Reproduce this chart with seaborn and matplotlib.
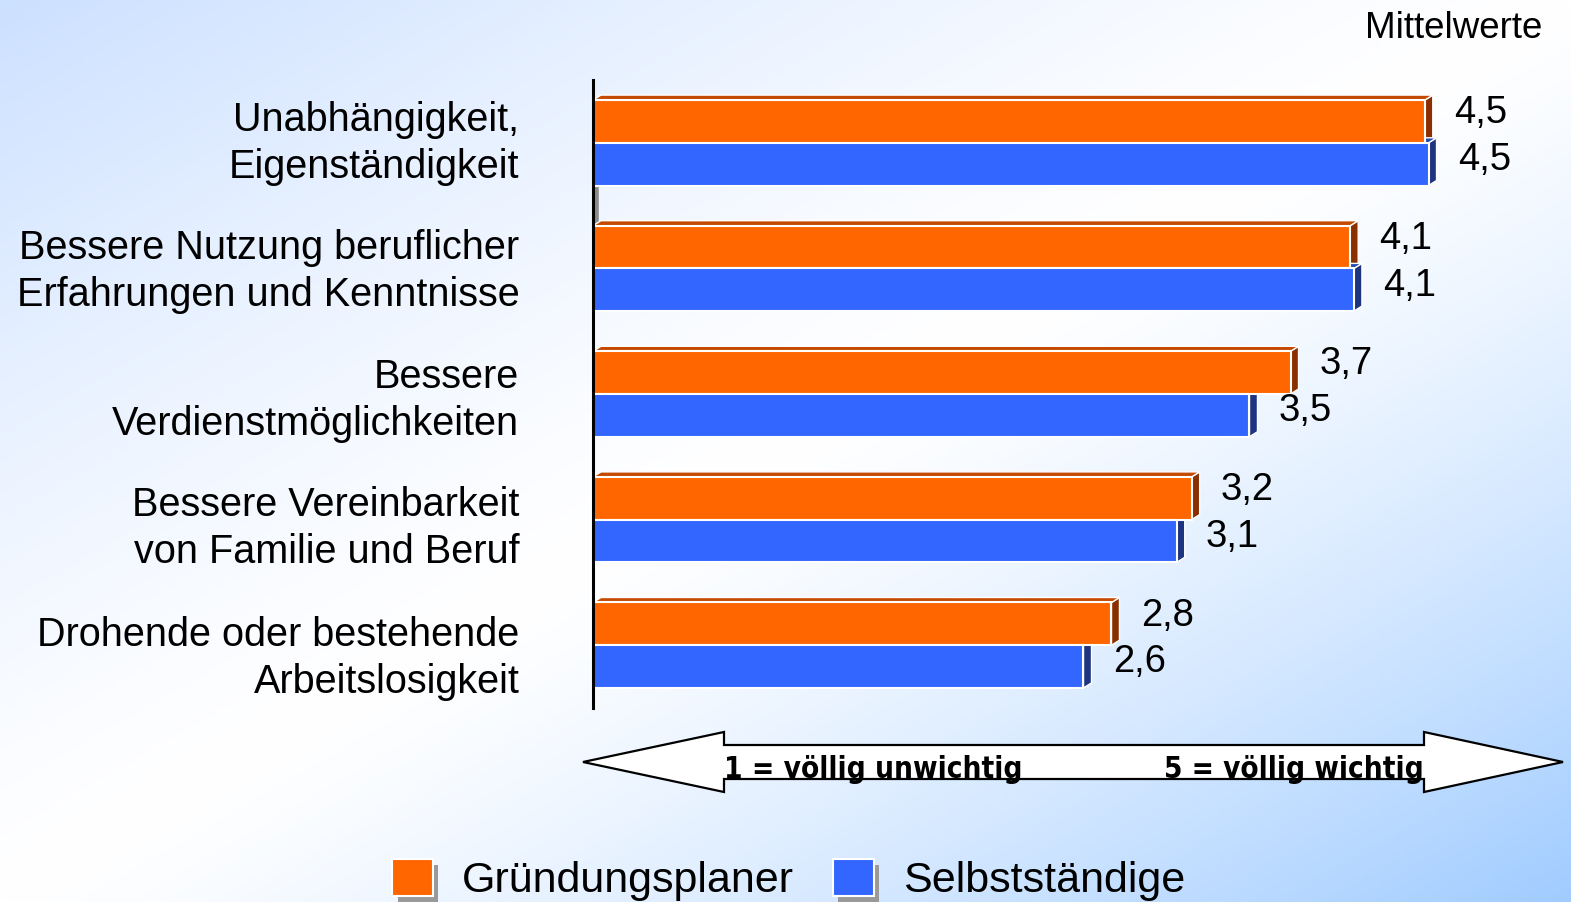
import numpy as np
import pandas as pd
import matplotlib.pyplot as plt
import matplotlib.transforms as mtransforms
import matplotlib.patheffects as pe
from matplotlib import font_manager as fm
from matplotlib.patches import Polygon
import seaborn as sns

# data
categories = [
    "Unabhängigkeit,\nEigenständigkeit",
    "Bessere Nutzung beruflicher\nErfahrungen und Kenntnisse",
    "Bessere\nVerdienstmöglichkeiten",
    "Bessere Vereinbarkeit\nvon Familie und Beruf",
    "Drohende oder bestehende\nArbeitslosigkeit",
]
series = ["Gründungsplaner", "Selbstständige"]
gruender = [4.46, 4.06, 3.74, 3.21, 2.78]
selbst = [4.48, 4.08, 3.52, 3.13, 2.63]
colors = {"Gründungsplaner": "#FF6600", "Selbstständige": "#3366FF"}
top_colors = {"Gründungsplaner": "#C44A00", "Selbstständige": "#2448B0"}
side_colors = {"Gründungsplaner": "#8A3000", "Selbstständige": "#1E3480"}

df = pd.DataFrame({
    "Kategorie": categories * 2,
    "Gruppe": [series[0]] * 5 + [series[1]] * 5,
    "Wert": gruender + selbst,
})

sns.set_style("white")
plt.rcParams["font.family"] = ["Liberation Sans", "DejaVu Sans"]
plt.rcParams["text.color"] = "black"
plt.rcParams["ytick.color"] = "black"

W, H = 1571, 902
fig = plt.figure(figsize=(W / 100, H / 100), dpi=100)

# background gradient
bg = fig.add_axes([0, 0, 1, 1], zorder=-10)
u = np.linspace(0, 1, 400)
v = np.linspace(1, 0, 240)
U, V = np.meshgrid(u, v)
t = U - V
white = np.array([1.0, 1.0, 1.0])
br = np.array([0.63, 0.80, 1.0])
tl = np.array([0.80, 0.88, 1.0])
pos = np.clip(t, 0, 1)[..., None] ** 1.3
neg = np.clip(-t, 0, 1)[..., None] ** 1.3
img = white * (1 - pos - neg) + br * pos + tl * neg
bg.imshow(img, aspect="auto", extent=[0, 1, 0, 1])
bg.axis("off")

ax = fig.add_axes([593 / W, 194 / H, (1540 - 593) / W, 628 / H])
ax.set_facecolor("none")
sns.barplot(data=df, y="Kategorie", x="Wert", hue="Gruppe", order=categories,
            hue_order=series, palette=colors, orient="y", width=0.68, saturation=1,
            edgecolor="white", linewidth=1.5, ax=ax, zorder=3)

xmax = (1540 - 593) / 186.5
ax.set_xlim(0, xmax)
ax.set_ylim(4.5, -0.5)

# pseudo 3D: top and side faces
dx = 8 / 186.5
dy = 5 / 125.6
bars = [p for p in ax.patches if p.get_width() > 0]
for i, p in enumerate(bars):
    grp = series[0] if i < 5 else series[1]
    x0, w = p.get_x(), p.get_width()
    y0, h = p.get_y(), p.get_height()
    ytop = min(y0, y0 + h)
    ybot = max(y0, y0 + h)
    x1 = x0 + w
    side = Polygon([(x1, ytop), (x1 + dx, ytop - dy), (x1 + dx, ybot - dy), (x1, ybot)],
                   closed=True, facecolor=side_colors[grp], edgecolor="white", lw=1, zorder=2)
    top = Polygon([(x0, ytop), (x0 + dx, ytop - dy), (x1 + dx, ytop - dy), (x1, ytop)],
                  closed=True, facecolor=top_colors[grp], edgecolor="white", lw=1, zorder=2)
    ax.add_patch(side)
    ax.add_patch(top)
    lab = f"{w:.1f}".replace(".", ",")
    lift = 6 if grp == series[0] else 3
    ax.annotate(lab, (x1, (ytop + ybot) / 2), xytext=(21, lift), textcoords="offset points",
                ha="left", va="center", fontsize=27.5, color="black")

# axis wall
wall_tr = mtransforms.offset_copy(ax.get_yaxis_transform(), fig=fig, x=3, y=0, units="dots")
ax.plot([0, 0], [0, 1], color="#8a8a8a", lw=4, transform=wall_tr, zorder=1, solid_capstyle="butt")

for s in ["top", "right", "bottom"]:
    ax.spines[s].set_visible(False)
ax.spines["left"].set_color("black")
ax.spines["left"].set_linewidth(2.2)
ax.spines["left"].set_zorder(4)
ax.set_xticks([])
ax.set_xlabel("")
ax.set_ylabel("")
ax.tick_params(axis="y", length=0, pad=53, labelcolor="black")
label_shift = [8, 5, 2, 0, -5]   # px upward, labels sit a bit off the group centres
for lbl, sh in zip(ax.get_yticklabels(), label_shift):
    lbl.set_fontsize(28.5)
    lbl.set_multialignment("right")
    lbl.set_linespacing(1.3)
    lbl.set_transform(lbl.get_transform() + mtransforms.ScaledTranslation(0, sh / 100, fig.dpi_scale_trans))

# legend
handles, labels = ax.get_legend_handles_labels()
ax.legend_.remove()
leg = fig.legend(handles, labels, loc="upper left", bbox_to_anchor=(392 / W, 1 - 859 / H),
                 ncol=2, frameon=False, fontsize=31, handlelength=0.95, handleheight=0.95,
                 handletextpad=0.68, columnspacing=0.9, borderpad=0, borderaxespad=0)
for hnd in leg.legend_handles:
    hnd.set_edgecolor("white")
    hnd.set_path_effects([pe.SimplePatchShadow(offset=(4, -4), shadow_rgbFace="#999999", alpha=1),
                          pe.Normal()])

fig.text(1542 / W, 1 - 38 / H, "Mittelwerte", ha="right", va="baseline", fontsize=26.5)

# scale arrow
pts_px = [(583, 762), (724, 732), (724, 745), (1424, 745), (1424, 732), (1563, 762),
          (1424, 792), (1424, 779), (724, 779), (724, 792)]
arrow = Polygon([(x / W, 1 - y / H) for x, y in pts_px], closed=True, transform=fig.transFigure,
                facecolor="white", edgecolor="black", lw=1.6)
fig.patches.append(arrow)

# condensed bold font if one is installed, else plain bold squeezed to the width
narrow_fp = fm.FontProperties(family="Liberation Sans", weight="bold")
for f in fm.fontManager.ttflist:
    fn = f.fname.lower()
    if ("narrow" in fn or "condensed" in fn) and "bold" in fn and "oblique" not in fn and "italic" not in fn:
        narrow_fp = fm.FontProperties(fname=f.fname)
        break

renderer = fig.canvas.get_renderer()
for txt, x, ha, target in [("1 = völlig unwichtig", 724, "left", 298),
                           ("5 = völlig wichtig", 1424, "right", 260)]:
    tt = fig.text(x / W, 1 - 778 / H, txt, ha=ha, va="baseline", fontproperties=narrow_fp)
    tt.set_fontsize(26)
    wpx = tt.get_window_extent(renderer).width
    tt.set_fontsize(min(26, 26 * target / wpx))

fig.savefig("out.png", dpi=100)
